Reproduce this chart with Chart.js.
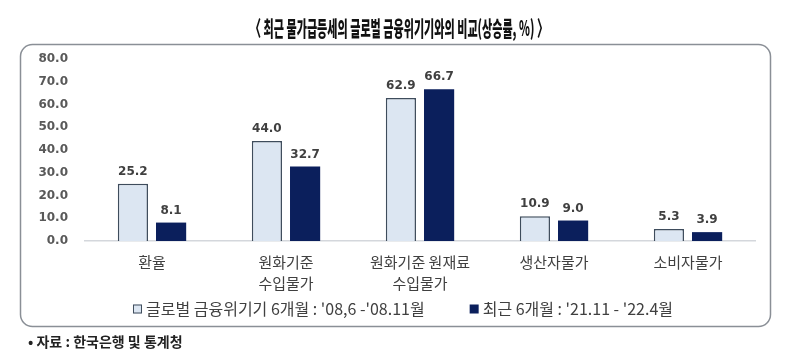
<!DOCTYPE html>
<html>
<head>
<meta charset="utf-8">
<script src="https://cdn.jsdelivr.net/npm/chart.js@4.4.1/dist/chart.umd.min.js"></script>
<style>
html,body{margin:0;padding:0;background:#fff;}
#wrap{width:800px;height:364px;position:relative;}
</style>
</head>
<body>
<div id="wrap"><canvas id="c" width="800" height="364"></canvas></div>
<script>
const titleText = "〈 최근 물가급등세의 글로벌 금융위기기와의 비교(상승률, %) 〉";
const sourceText = "• 자료 : 한국은행 및 통계청";
const categories = [["환율"], ["원화기준", "수입물가"], ["원화기준 원재료", "수입물가"], ["생산자물가"], ["소비자물가"]];
const seriesNames = ["글로벌 금융위기기 6개월 : '08,6 -'08.11월", "최근 6개월 : '21.11 - '22.4월"];
const crisisValues = [25.2, 44.0, 62.9, 10.9, 5.3];
const recentValues = [8.1, 32.7, 66.7, 9.0, 3.9];
const yTicks = [0, 10, 20, 30, 40, 50, 60, 70, 80];

const KR = "'Noto Sans CJK KR', 'Noto Sans', sans-serif";
const NUM = "'DejaVu Sans', sans-serif";

const decorPlugin = {
  id: 'decor',
  beforeDraw(chart) {
    const ctx = chart.ctx;
    ctx.save();
    // frame
    ctx.strokeStyle = '#8a8f96';
    ctx.lineWidth = 1.5;
    ctx.beginPath();
    ctx.roundRect(20.5, 44.5, 750, 282, 12);
    ctx.stroke();
    // title (condensed)
    ctx.fillStyle = '#111111';
    ctx.font = "900 21px " + KR;
    ctx.textBaseline = 'middle';
    ctx.textAlign = 'left';
    const tw = ctx.measureText(titleText).width;
    const target = 298;
    const sx = target / tw;
    ctx.save();
    ctx.translate(399 - target / 2, 28);
    ctx.scale(sx, 1);
    ctx.fillText(titleText, 0, 0);
    ctx.restore();
    // footnote
    ctx.fillStyle = '#222222';
    ctx.font = "bold 14px " + KR;
    ctx.fillText(sourceText, 28, 341.5);
    ctx.restore();
  },
  afterDraw(chart) {
    // legend
    const ctx = chart.ctx;
    ctx.save();
    ctx.font = "16px " + KR;
    ctx.textBaseline = 'middle';
    ctx.textAlign = 'left';
    const ds = chart.data.datasets;
    const box = 9, boxGap = 4, itemGap = 45;
    const widths = ds.map(d => box + boxGap + ctx.measureText(d.label).width);
    const total = widths.reduce((a, b) => a + b, 0) + itemGap * (ds.length - 1);
    let x = 403 - total / 2;
    const y = 309;
    ds.forEach((d, i) => {
      ctx.fillStyle = d.backgroundColor;
      ctx.fillRect(x, y - box / 2, box, box);
      if (i === 0) {
        ctx.strokeStyle = '#3e4c5c';
        ctx.lineWidth = 1;
        ctx.strokeRect(x + 0.5, y - box / 2 + 0.5, box - 1, box - 1);
      }
      ctx.fillStyle = '#404040';
      ctx.fillText(d.label, x + box + boxGap, y);
      x += widths[i] + itemGap;
    });
    ctx.restore();
  }
};

const labelPlugin = {
  id: 'valueLabels',
  afterDatasetsDraw(chart) {
    const ctx = chart.ctx;
    ctx.save();
    ctx.font = "bold 12px " + NUM;
    ctx.fillStyle = '#404040';
    ctx.textAlign = 'center';
    ctx.textBaseline = 'bottom';
    chart.data.datasets.forEach((ds, i) => {
      const meta = chart.getDatasetMeta(i);
      meta.data.forEach((bar, j) => {
        ctx.fillText(ds.data[j].toFixed(1), bar.x, bar.y - 6);
      });
    });
    ctx.restore();
  }
};

new Chart(document.getElementById('c'), {
  type: 'bar',
  data: {
    labels: categories,
    datasets: [
      {
        label: seriesNames[0],
        data: crisisValues,
        backgroundColor: '#dce6f2',
        borderColor: '#3e4c5c',
        borderWidth: 1.5,
        borderSkipped: 'bottom'
      },
      {
        label: seriesNames[1],
        data: recentValues,
        backgroundColor: '#0b1f5c',
        borderColor: '#0b1f5c',
        borderWidth: 0
      }
    ]
  },
  options: {
    responsive: false,
    animation: false,
    events: [],
    layout: { padding: { left: 20, right: 45, top: 59, bottom: 59 } },
    datasets: { bar: { categoryPercentage: 0.57, barPercentage: 0.79 } },
    scales: {
      x: {
        grid: { display: false, drawTicks: false },
        border: { display: true, color: '#d4d7dc', width: 1.5 },
        ticks: {
          color: '#404040',
          font: { family: KR, size: 15, lineHeight: 1.4 },
          padding: 11,
          maxRotation: 0,
          autoSkip: false
        }
      },
      y: {
        min: 0, max: 80,
        afterFit(s) { s.width = 65; },
        afterBuildTicks(s) { s.ticks = yTicks.map(v => ({ value: v })); },
        grid: { display: false, drawTicks: false },
        border: { display: false },
        ticks: {
          color: '#595959',
          font: { family: NUM, size: 12, weight: 'bold' },
          padding: 17,
          callback: v => Number(v).toFixed(1)
        }
      }
    },
    plugins: {
      tooltip: { enabled: false },
      title: { display: false },
      legend: { display: false }
    }
  },
  plugins: [decorPlugin, labelPlugin]
});
</script>
</body>
</html>
